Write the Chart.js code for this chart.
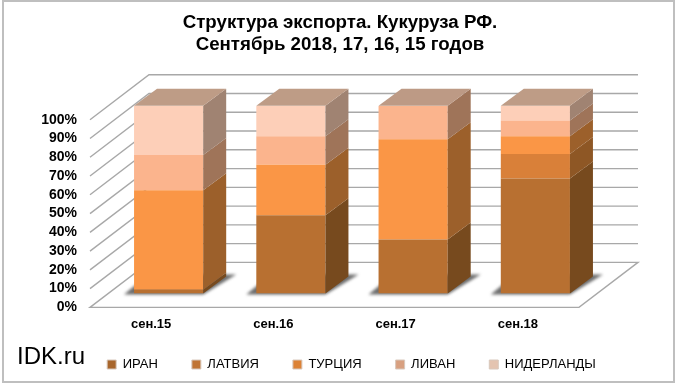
<!DOCTYPE html>
<html><head><meta charset="utf-8">
<style>html,body{margin:0;padding:0;background:#fff}#w{width:680px;height:385px}</style>
<script src="https://cdn.jsdelivr.net/npm/chart.js@4"></script></head>
<body><div id="w"><canvas id="c" width="680" height="385"></canvas></div>
<script>
const categories = ['сен.15','сен.16','сен.17','сен.18'];
const iran = [2, 41.7, 28.7, 61.3];
const latvia = [0, 0, 0, 13];
const turkey = [53, 26.8, 53.5, 9.4];
const lebanon = [18.8, 15.2, 17.8, 8.5];
const netherlands = [26.2, 16.3, 0, 7.8];
const seriesNames = ['ИРАН','ЛАТВИЯ','ТУРЦИЯ','ЛИВАН','НИДЕРЛАНДЫ'];
const frontColors = ['#B87031','#D98039','#FA9646','#FBB48D','#FDCFB8'];
const sideColors = ['#774A1E','#8E5725','#9C602B','#9F7459','#A08372'];
const topColors = ['#BC8F68','#C29A78','#BF9878','#BD9A85','#BE9C86'];
const legendFill = ['#A8662C','#C07434','#DC8236','#D8A080','#E4C4B0'];
const seriesValues = [iran, latvia, turkey, lebanon, netherlands];
const titleLines = ['Структура экспорта. Кукуруза РФ.','Сентябрь 2018, 17, 16, 15 годов'];
const watermark = 'IDK.ru';
const yTicks = [0,10,20,30,40,50,60,70,80,90,100];

const FONT = '"Liberation Sans", Arial, sans-serif';
const WALL = {dx:59, dy:-45};
const BAR_SHIFT = {dx:17.5, dy:-14};
const BAR_DEPTH = {dx:23, dy:-17};

const scene = {
  id:'scene',
  afterLayout(chart){
    const t = chart.titleBlock, l = chart.legend;
    t.left = 0; t.right = 680;
    l.left = 23; l.right = 680;
    const d = 324 - l.top; l.top += d; l.bottom += d;
  },
  beforeDraw(chart){
    const c = chart.ctx;
    c.save();
    c.fillStyle='#fff'; c.fillRect(0,0,680,385);
    c.strokeStyle='#BFBFBF'; c.lineWidth=2;
    c.strokeRect(3,1,671,381);
    c.font='24px '+FONT; c.fillStyle='#000'; c.textBaseline='alphabetic'; c.textAlign='left';
    c.fillText(watermark,17,364);
    c.restore();
  },
  beforeDatasetsDraw(chart){
    const c = chart.ctx, a = chart.chartArea, y = chart.scales.y;
    c.save();
    c.strokeStyle='#A8A8A8'; c.lineWidth=1.4;
    yTicks.forEach(v=>{
      const p = y.getPixelForValue(v);
      c.beginPath();
      c.moveTo(a.left,p);
      c.lineTo(a.left+WALL.dx,p+WALL.dy);
      c.lineTo(a.right+WALL.dx,p+WALL.dy);
      if(v===0){ c.lineTo(a.right,p); c.closePath(); }
      c.stroke();
    });
    const m0 = chart.getDatasetMeta(0);
    c.filter='blur(1.5px)';
    c.fillStyle='rgba(60,60,60,.75)';
    m0.data.forEach(b=>{
      const L=b.x-b.width/2+BAR_SHIFT.dx, R=b.x+b.width/2+BAR_SHIFT.dx, B=y.getPixelForValue(0)+BAR_SHIFT.dy;
      c.beginPath();
      c.moveTo(L-10,B+1); c.lineTo(R,B+1); c.lineTo(R+33,B-19); c.lineTo(L+14,B-19); c.closePath(); c.fill();
    });
    c.filter='none';
    c.restore();
    c.save();
    c.translate(BAR_SHIFT.dx,BAR_SHIFT.dy);
  },
  afterDatasetsDraw(chart){
    const c = chart.ctx, n = chart.data.datasets.length;
    for(let i=0;i<chart.data.labels.length;i++){
      let topDs=-1;
      for(let d=0;d<n;d++){
        const b = chart.getDatasetMeta(d).data[i];
        if(seriesValues[d][i]<=0) continue;
        topDs=d;
        const R=b.x+b.width/2;
        c.fillStyle=sideColors[d];
        c.beginPath();
        c.moveTo(R,b.base); c.lineTo(R+BAR_DEPTH.dx,b.base+BAR_DEPTH.dy);
        c.lineTo(R+BAR_DEPTH.dx,b.y+BAR_DEPTH.dy); c.lineTo(R,b.y); c.closePath(); c.fill();
      }
      const b = chart.getDatasetMeta(topDs).data[i];
      const L=b.x-b.width/2,R=b.x+b.width/2;
      c.fillStyle=topColors[topDs];
      c.beginPath();
      c.moveTo(L,b.y); c.lineTo(R,b.y); c.lineTo(R+BAR_DEPTH.dx,b.y+BAR_DEPTH.dy);
      c.lineTo(L+BAR_DEPTH.dx,b.y+BAR_DEPTH.dy); c.closePath(); c.fill();
    }
    c.restore();
  }
};

new Chart(document.getElementById('c'),{
  type:'bar',
  data:{labels:categories,datasets:seriesNames.map((n,i)=>({
    label:n,data:seriesValues[i],backgroundColor:frontColors[i],borderWidth:0,
    categoryPercentage:1,barPercentage:69/122
  }))},
  plugins:[scene],
  options:{
    responsive:false,animation:false,
    layout:{padding:{left:0,right:101,top:12,bottom:-13}},
    plugins:{
      tooltip:{enabled:false},
      title:{display:true,text:titleLines,color:'#000',font:{family:FONT,size:18.7,weight:'bold',lineHeight:1.17},padding:{top:0,bottom:64}},
      legend:{position:'bottom',labels:{font:{family:FONT,size:13},color:'#000',boxWidth:9,boxHeight:9,padding:34,
        generateLabels:ch=>seriesNames.map((n,i)=>({text:n,fillStyle:legendFill[i],strokeStyle:'#D8C8BC',lineWidth:1,fontColor:'#000',datasetIndex:i,hidden:false}))}}
    },
    scales:{
      x:{stacked:true,grid:{display:false,drawTicks:false},border:{display:false},
         ticks:{color:'#000',font:{family:FONT,size:13,weight:'bold'},padding:9,maxRotation:0}},
      y:{stacked:true,min:0,max:100,grid:{display:false,drawTicks:false},border:{display:false},
         afterFit(s){s.width=90;},
         afterBuildTicks(s){s.ticks=yTicks.map(v=>({value:v}));},
         ticks:{color:'#000',font:{family:FONT,size:14,weight:'bold'},padding:13,autoSkip:false,callback:v=>v+'%'}}
    }
  }
});
</script></body></html>
